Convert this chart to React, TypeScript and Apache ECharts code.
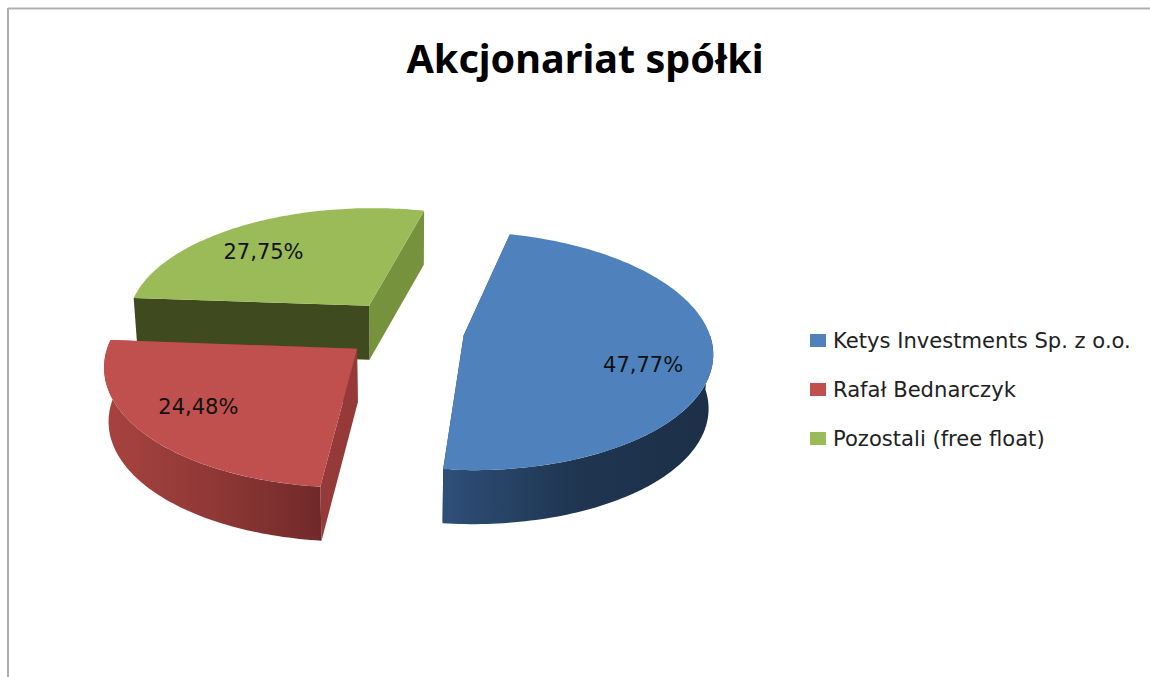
import React, { useEffect, useRef } from "react";
import * as echarts from "echarts";

const titleText = "Akcjonariat spółki";
const shareholders = ["Ketys Investments Sp. z o.o.", "Rafał Bednarczyk", "Pozostali (free float)"];
const shares = [47.77, 24.48, 27.75];
const explode = [0.25, 0.24, 0.26];
const explodeAngleShift = [0, 0, 2.7];
const topColors = ["#4f81bd", "#c0504d", "#9bbb59"];
const wallStops = [
  ["#2e4f78", "#1f3550", "#1c2f47"],
  ["#a8433f", "#8f3836", "#702a29"],
  ["#76923c", "#76923c", "#76923c"],
];
// [face along the slice's start edge, face along its end edge]
const cutColors = [
  ["#1f3550", "#1f3550"],
  ["#953a38", "#953a38"],
  ["#3f4a1e", "#76923c"],
];
const labelRadius = [0.74, 0.74, 0.707];
const labelAngleShift = [9.5, 2.4, -6.85];
const FONT = '"Noto Sans", sans-serif';
const LABEL_FONT = '"DejaVu Sans", sans-serif';

// 3D projection constants (layout)
const CX = 403, CY = 345.5, RX = 245, RY = 118, PERSP = -0.128, DEPTH = 54, SHRINK = 0.015;
const START_DEG = -76;

function project(X: number, Z: number, h = 0): number[] {
  const den = 1 + PERSP * Z;
  const s = 1 - (SHRINK * h) / DEPTH;
  return [CX + ((RX * X) / den) * s, CY + (RY * (Z + PERSP)) / den + h];
}

function renderSlice(i: number) {
  return (_params: any, api: any) => {
    const value = api.value(0);
    const total = shares.reduce((a, b) => a + b, 0);
    const before = shares.slice(0, i).reduce((a, b) => a + b, 0);
    const a0 = ((START_DEG + (before / total) * 360) * Math.PI) / 180;
    const a1 = a0 + (value / total) * Math.PI * 2;
    const mid = (a0 + a1) / 2;
    const dir = mid + (explodeAngleShift[i] * Math.PI) / 180;
    const ox = explode[i] * Math.cos(dir);
    const oz = explode[i] * Math.sin(dir);
    const arc = (from: number, to: number, h = 0) => {
      const pts: number[][] = [];
      const n = Math.max(2, Math.ceil(Math.abs(to - from) / 0.02));
      for (let k = 0; k <= n; k++) {
        const t = from + ((to - from) * k) / n;
        pts.push(project(ox + Math.cos(t), oz + Math.sin(t), h));
      }
      return pts;
    };
    const apex = project(ox, oz);
    const apexLow = project(ox, oz, DEPTH);
    const edge = (t: number) => [
      project(ox + Math.cos(t), oz + Math.sin(t)),
      project(ox + Math.cos(t), oz + Math.sin(t), DEPTH),
    ];
    const [s0, s0Low] = edge(a0);
    const [s1, s1Low] = edge(a1);
    const children: any[] = [
      { type: "polygon", shape: { points: [apex, s1, s1Low, apexLow] }, style: { fill: cutColors[i][1] } },
      { type: "polygon", shape: { points: [apex, s0, s0Low, apexLow] }, style: { fill: cutColors[i][0] } },
    ];
    // visible outer wall: only the part of the rim on the viewer's side
    const visFrom = Math.max(a0, 0);
    const visTo = Math.min(a1, Math.PI * 1.02);
    if (visTo > visFrom) {
      children.push({
        type: "polygon",
        shape: { points: [...arc(visFrom, visTo), ...arc(visFrom, visTo, DEPTH).reverse()] },
        style: {
          fill: new echarts.graphic.LinearGradient(0, 0, 1, 0, [
            { offset: 0, color: wallStops[i][0] },
            { offset: 0.5, color: wallStops[i][1] },
            { offset: 1, color: wallStops[i][2] },
          ]),
        },
      });
    }
    children.push({
      type: "polygon",
      shape: { points: [apex, ...arc(a0, a1)] },
      style: { fill: topColors[i] },
    });
    const r = labelRadius[i];
    const la = mid + (labelAngleShift[i] * Math.PI) / 180;
    const lp = project(ox + r * Math.cos(la), oz + r * Math.sin(la));
    children.push({
      type: "text",
      style: {
        text: value.toFixed(2).replace(".", ",") + "%",
        x: lp[0],
        y: lp[1],
        fill: "#111111",
        font: `21px ${LABEL_FONT}`,
        textAlign: "center",
        textVerticalAlign: "middle",
      },
    });
    return { type: "group", children };
  };
}

export default function App() {
  const ref = useRef<HTMLDivElement>(null);
  useEffect(() => {
    document.body.style.margin = "0";
    const chart = echarts.init(ref.current!, null, { renderer: "svg" });
    chart.setOption({
      animation: false,
      backgroundColor: "#ffffff",
      title: {
        text: titleText,
        left: 580,
        top: 33,
        textAlign: "center",
        textStyle: { fontFamily: FONT, fontSize: 39.6, fontWeight: "bold", color: "#000000" },
      },
      legend: {
        orient: "vertical",
        left: 805,
        top: 325,
        itemWidth: 16,
        itemHeight: 13,
        itemGap: 28,
        icon: "rect",
        selectedMode: false,
        data: shareholders,
        textStyle: { fontFamily: LABEL_FONT, fontSize: 21.1, color: "#222222", padding: [0, 0, 0, 2] },
      },
      graphic: [
        { type: "line", shape: { x1: 8, y1: 8.5, x2: 1150, y2: 8.5 }, style: { stroke: "#b0b0b0", lineWidth: 2 } },
        { type: "line", shape: { x1: 8, y1: 8, x2: 8, y2: 677 }, style: { stroke: "#b0b0b0", lineWidth: 2 } },
      ],
      series: shareholders.map((name, i) => ({
        type: "custom",
        name,
        coordinateSystem: "none",
        silent: true,
        z: 5 - i,
        itemStyle: { color: topColors[i] },
        data: [[shares[i]]],
        renderItem: renderSlice(i),
      })),
    });
    return () => chart.dispose();
  }, []);
  return <div ref={ref} style={{ width: 1150, height: 677 }} />;
}
